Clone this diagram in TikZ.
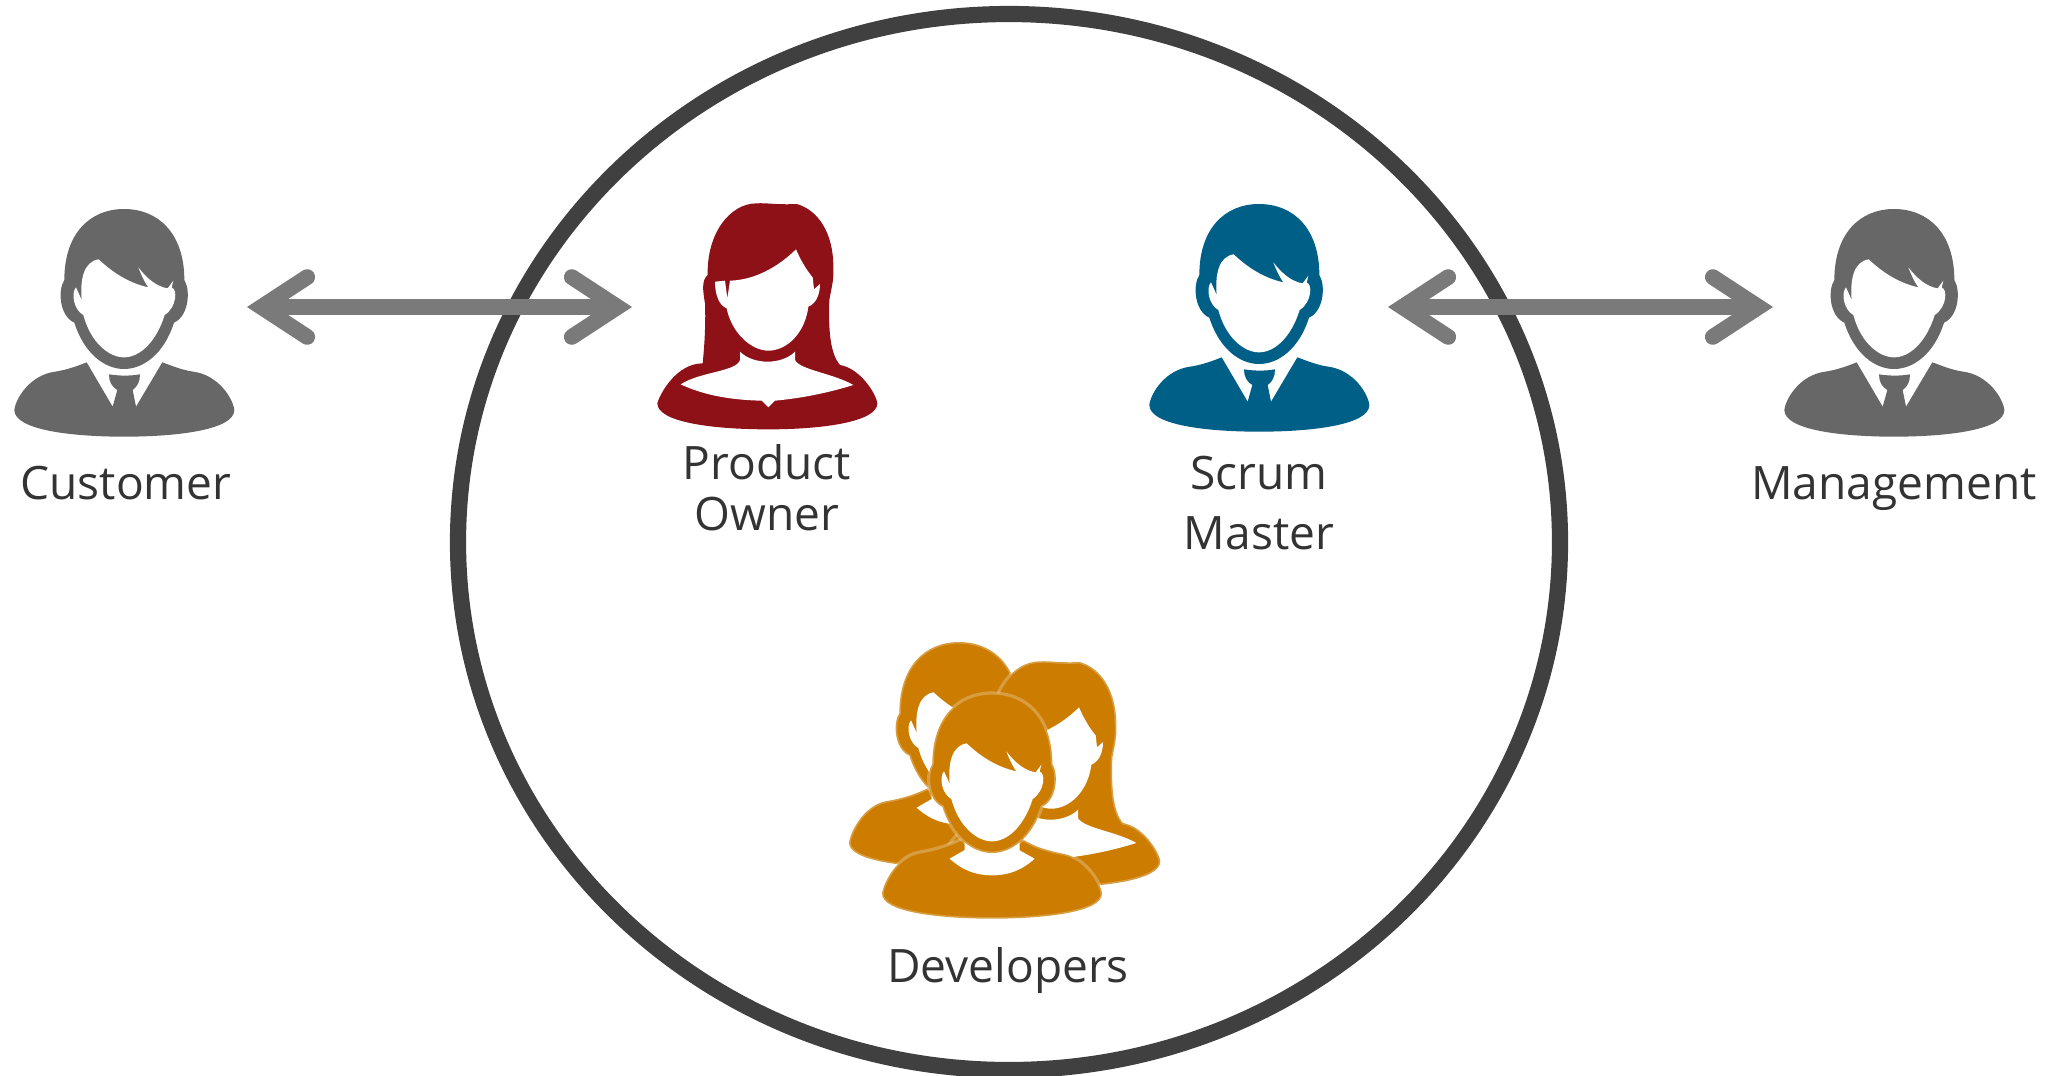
\documentclass[tikz,border=0pt]{standalone}
\usepackage{fontspec}
\setmainfont{Open Sans}
\usetikzlibrary{arrows.meta}

\definecolor{ownerred}{HTML}{8E1118}
\definecolor{masterblue}{HTML}{005F87}
\definecolor{devorange}{HTML}{CC7D00}
\definecolor{stakegray}{HTML}{676767}
\definecolor{arrowgray}{HTML}{7A7A7A}
\definecolor{ringgray}{HTML}{404040}
\definecolor{labelgray}{HTML}{333333}

\tikzset{
  teamring/.style={draw=ringgray, line width=4.6pt},
  rolelabel/.style={text=labelgray, align=center, inner sep=0pt, font=\fontsize{13.1}{15}\selectfont},
  crossarrow/.style={draw=arrowgray, line width=4.5pt,
    {Straight Barb[length=13pt, width=17pt, line width=4.5pt, line cap=round, line join=miter]}-{Straight Barb[length=13pt, width=17pt, line width=4.5pt, line cap=round, line join=miter]}},
  halo/.style={draw=white, draw opacity=0.25, line width=0.9pt},
}

% Head of the man, hair and ears
\newcommand{\manhead}[1]{
  \path[#1] (193,270) .. controls (193,130) and (270,57) .. (372,57)
    .. controls (475,57) and (553,130) .. (553,270)
    .. controls (572,300) and (567,378) .. (522,398)
    .. controls (492,492) and (430,537) .. (372,537)
    .. controls (315,537) and (253,492) .. (223,398)
    .. controls (178,378) and (173,300) .. (193,270) -- cycle;
  \fill[white] (296,208) .. controls (340,250) and (390,280) .. (445,292)
    .. controls (430,270) and (422,250) .. (415,232)
    .. controls (440,265) and (470,290) .. (503,295) -- (520,272) -- (515,293)
    .. controls (532,295) and (532,350) .. (494,375)
    .. controls (468,458) and (418,502) .. (372,502)
    .. controls (327,502) and (272,458) .. (250,375)
    .. controls (222,360) and (212,310) .. (228,292) -- (245,330)
    .. controls (240,270) and (250,215) .. (296,208) -- cycle;
}
% Man in suit and tie
\newcommand{\manicon}[3]{
  \begin{scope}[shift={(#1,#2)}, scale=1/3]
    \manhead{fill=#3}
    \fill[#3] (43,660) .. controls (47,625) and (90,555) .. (165,545)
      .. controls (200,540) and (235,527) .. (260,517) -- (338,650) -- (352,600)
      .. controls (335,590) and (327,575) .. (327,553)
      .. controls (360,558) and (390,558) .. (420,553)
      .. controls (420,575) and (412,590) .. (398,600) -- (408,650) -- (487,517)
      .. controls (515,527) and (545,540) .. (580,545)
      .. controls (655,555) and (699,625) .. (703,660)
      .. controls (703,720) and (530,740) .. (372,740)
      .. controls (215,740) and (43,720) .. (43,660) -- cycle;
  \end{scope}
}
% Developer with round neck
\newcommand{\devicon}[2]{
  \begin{scope}[shift={(#1,#2)}, scale=1/3]
    \filldraw[fill=devorange, halo] (42,659) .. controls (47,625) and (85,550) .. (150,535)
      .. controls (190,528) and (230,520) .. (290,490) -- (455,490)
      .. controls (500,520) and (540,530) .. (590,540)
      .. controls (655,555) and (698,625) .. (702,659)
      .. controls (702,715) and (530,734) .. (372,734)
      .. controls (215,734) and (42,715) .. (42,659) -- cycle;
    \fill[white] (290,500) -- (290,528) -- (245,554)
      .. controls (285,590) and (325,604) .. (372,604)
      .. controls (420,604) and (460,590) .. (500,554) -- (455,529) -- (455,500)
      .. controls (425,525) and (320,525) .. (290,500) -- cycle;
    \manhead{fill=devorange, halo}
  \end{scope}
}
% Woman with long hair
\newcommand{\womanicon}[3]{
  \begin{scope}[shift={(#1,#2)}, scale=1/3]
    \path[#3] (203,255) .. controls (200,130) and (270,40) .. (350,40)
      .. controls (380,38) and (410,45) .. (470,42)
      .. controls (535,60) and (580,130) .. (580,230)
      .. controls (582,270) and (575,290) .. (568,330)
      .. controls (565,420) and (570,490) .. (600,525)
      .. controls (660,535) and (708,610) .. (712,640)
      .. controls (712,695) and (550,718) .. (385,718)
      .. controls (210,718) and (52,695) .. (52,640)
      .. controls (60,610) and (110,520) .. (188,520)
      .. controls (195,450) and (197,390) .. (195,340)
      .. controls (188,300) and (185,270) .. (203,255) -- cycle;
    \fill[white] (468,178) .. controls (410,235) and (340,270) .. (270,272) -- (262,325) -- (255,272)
      -- (225,275) .. controls (225,310) and (235,345) .. (260,355)
      .. controls (275,430) and (335,482) .. (385,482)
      .. controls (440,482) and (495,430) .. (505,350)
      .. controls (530,340) and (540,310) .. (540,282) -- (522,298) -- (518,262)
      .. controls (495,235) and (480,205) .. (468,178) -- cycle;
    \fill[white] (300,485) .. controls (340,525) and (425,525) .. (465,485) -- (465,510)
      .. controls (480,540) and (580,550) .. (640,585)
      .. controls (560,610) and (480,625) .. (405,632) -- (385,652) -- (365,632)
      .. controls (270,630) and (190,615) .. (122,583)
      .. controls (180,545) and (290,545) .. (300,510) -- cycle;
  \end{scope}
}

\begin{document}
\begin{tikzpicture}[x=0.01cm, y=-0.01cm]
  \useasboundingbox (0,0) rectangle (2061,1075);

  % Team
  \draw[teamring] (1009,542) ellipse (551 and 528);

  % Roles
  \manicon{0}{190}{stakegray} % Customer
  \manicon{1770}{190}{stakegray} % Management
  \manicon{1135}{185}{masterblue} % Scrum Master
  \womanicon{640}{190}{fill=ownerred} % Product Owner

  % Developers
  \devicon{835}{623}
  \womanicon{923}{648}{fill=devorange, halo}
  \devicon{868}{674}

  % Labels
  \node[rolelabel] (customer) at (126,483) {Customer};
  \node[rolelabel] (management) at (1894,489) {Management};
  \node[rolelabel, font=\fontsize{13.1}{14.5}\selectfont] (owner) at (767,488) {Product\\Owner};
  \node[rolelabel, font=\fontsize{13.1}{17}\selectfont] (master) at (1259,503) {Scrum\\Master};
  \node[rolelabel] (developers) at (1008,971) {Developers};

  % Arrows
  \coordinate (customerend) at (247,307);
  \coordinate (ownerend) at (632,307);
  \coordinate (masterend) at (1388,307);
  \coordinate (managementend) at (1773,307);
  \draw[crossarrow] (customerend) -- (ownerend);
  \draw[crossarrow] (masterend) -- (managementend);
\end{tikzpicture}
\end{document}
